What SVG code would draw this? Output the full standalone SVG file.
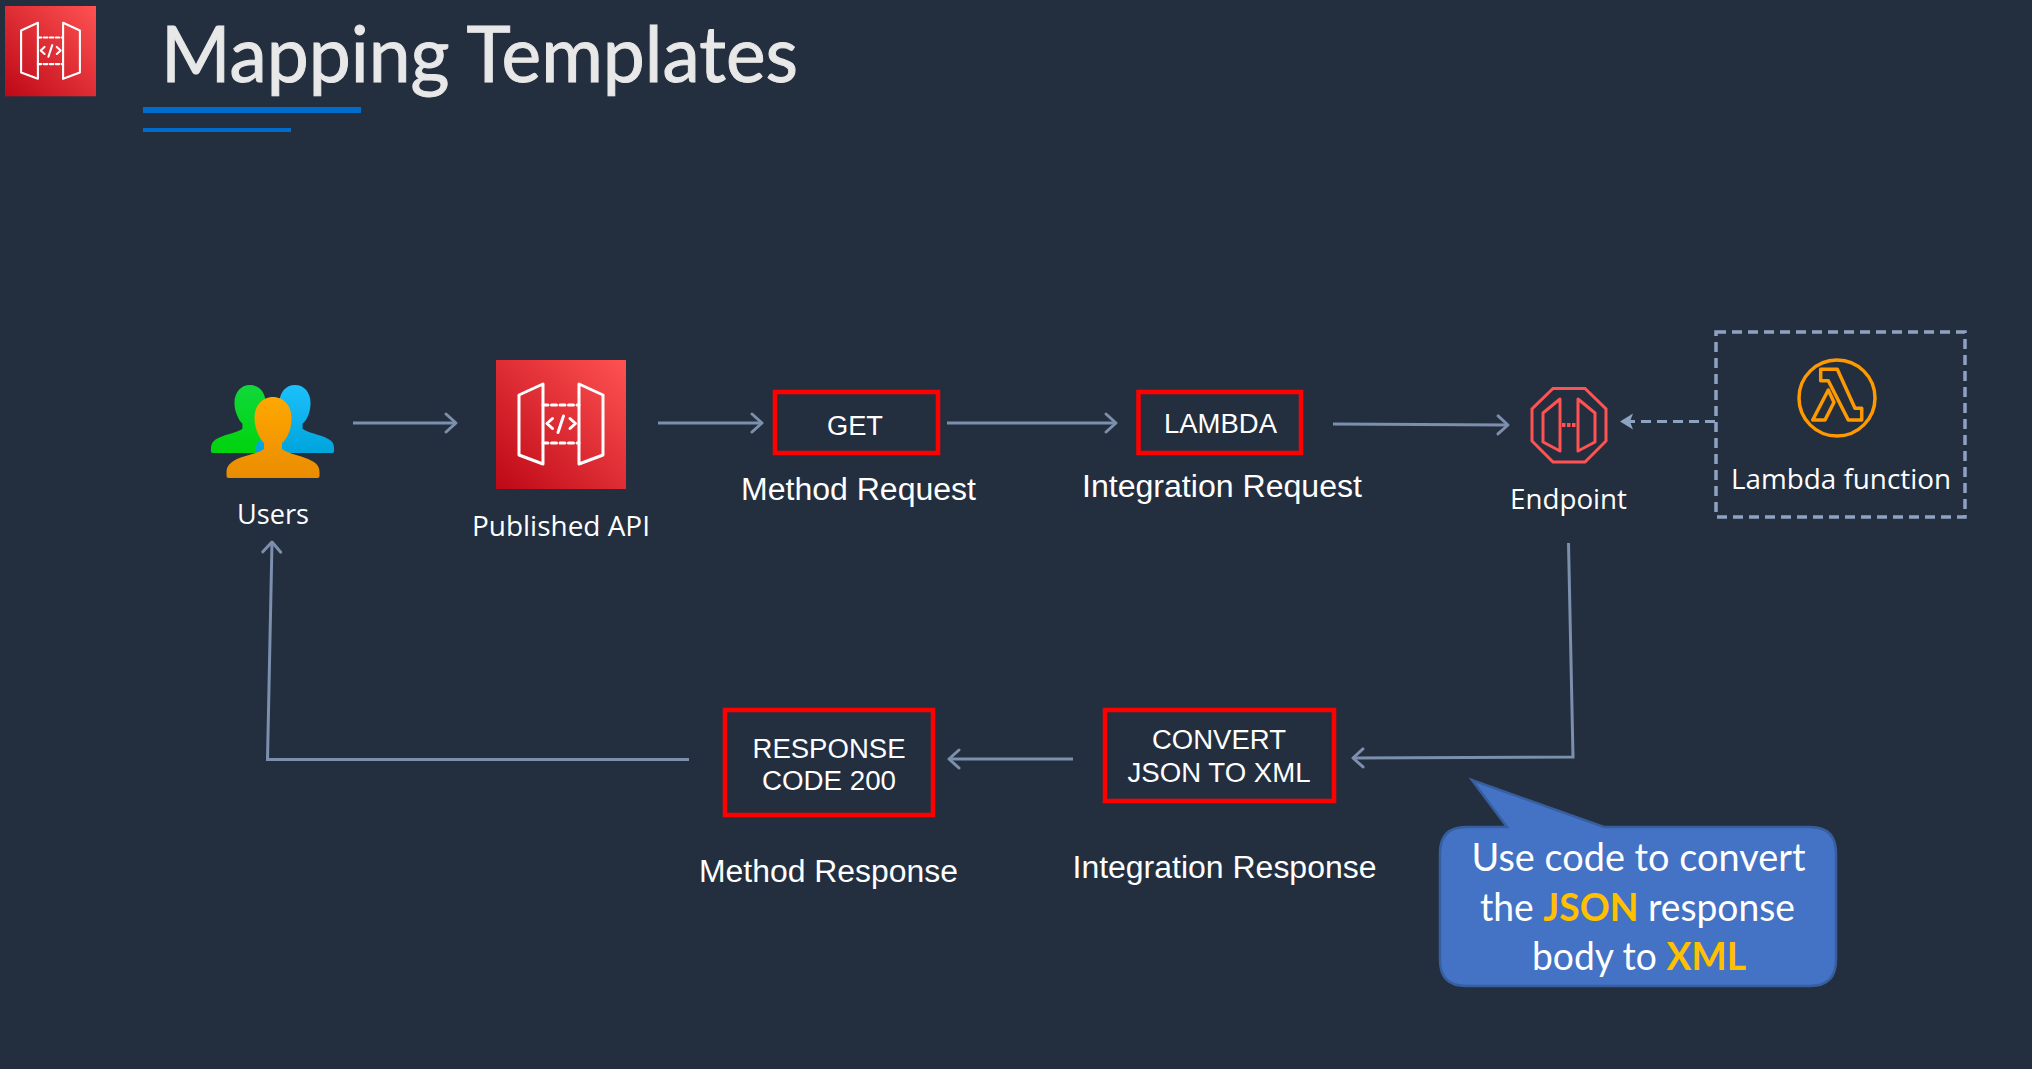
<svg xmlns="http://www.w3.org/2000/svg" width="2032" height="1069" viewBox="0 0 2032 1069">
<style>
.a{font-family:"Liberation Sans",Arial,sans-serif;fill:#fff;text-anchor:middle}
.s{font-family:"Open Sans","Noto Sans",sans-serif;fill:#fff;text-anchor:middle;font-size:27px}
.c{font-family:Lato,"Open Sans",sans-serif;fill:#fff;text-anchor:middle;font-size:38px}
.y{fill:#ffc000;font-weight:700}
.box{fill:none;stroke:#f00;stroke-width:4.5}
.l{fill:none;stroke:#7c8fad;stroke-width:3;marker-end:url(#ah)}
.dash{fill:none;stroke:#8ea3c2;stroke-width:3.5;stroke-dasharray:10 6}
.w{fill:none;stroke:#fff;stroke-linejoin:round;stroke-linecap:round}
</style>
<defs>
<linearGradient id="red" x1="0" y1="1" x2="1" y2="0"><stop offset="0" stop-color="#bd0816"/><stop offset="1" stop-color="#ff5252"/></linearGradient>
<linearGradient id="gg" x1="0" y1="0" x2="0" y2="1"><stop offset="0" stop-color="#10d83c"/><stop offset="1" stop-color="#00d40c"/></linearGradient>
<linearGradient id="gb" x1="0" y1="0" x2="0" y2="1"><stop offset="0" stop-color="#1cc0fc"/><stop offset="1" stop-color="#00a4dc"/></linearGradient>
<linearGradient id="go" x1="0" y1="0" x2="0" y2="1"><stop offset="0" stop-color="#ffa800"/><stop offset="1" stop-color="#ea8c00"/></linearGradient>
<marker id="ah" markerUnits="userSpaceOnUse" markerWidth="30" markerHeight="30" refX="22" refY="15" orient="auto"><path d="M12 6L22 15L12 24" fill="none" stroke="#7c8fad" stroke-width="3" stroke-linecap="round" stroke-linejoin="round"/></marker>
<marker id="ahd" markerUnits="userSpaceOnUse" markerWidth="30" markerHeight="30" refX="22" refY="15" orient="auto"><path d="M9 7L22 15L9 23L12 15Z" fill="#8ea3c2"/></marker>
<path id="person" d="M0 0C-11 0-18.5 9-18.5 21C-18.5 31-14 41-9 46L-9 52C-15 57-33 59-41 65C-45 68-46.500 71-46.500 76L-46.500 79Q-46.500 81-44.500 81L44.500 81Q46.500 81 46.500 79L46.500 75C46.500 69 43 66 39 64C31 59 15 57 9 52L9 46C15 41 18.500 31 18.500 21C18.500 9 11 0 0 0Z"/>
<g id="apiicon">
<rect width="130" height="129" fill="url(#red)"/>
<path class="w" stroke-width="3" d="M23 35L47 24V104L23 95ZM83 24L107 35V95L83 104Z"/>
<path class="w" stroke-width="3" stroke-linecap="butt" stroke-dasharray="5 3.500" d="M47 45H83M47 83H83"/>
<path class="w" stroke-width="3" d="M56.500 58.500L51 63.500L56.500 68.500M62 72.500L67.500 56M74 58.500L79.500 63.500L74 68.500"/>
</g>
</defs>
<rect width="2032" height="1069" fill="#232f3f"/>

<g id="title">
<use href="#apiicon" transform="translate(5 6) scale(.7)"/>
<text x="479.500" y="81.500" font-family="Lato,'Open Sans',sans-serif" font-size="77" fill="#e8e8e8" stroke="#e8e8e8" stroke-width="1" text-anchor="middle" textLength="637" lengthAdjust="spacingAndGlyphs">Mapping Templates</text>
<rect x="143" y="107" width="218" height="6" fill="#006ccb"/>
<rect x="143" y="128" width="148" height="4" fill="#006ccb"/>
</g>

<g id="connectors">
<path class="l" d="M353 423H456"/>
<path class="l" d="M658 423H762"/>
<path class="l" d="M947 423H1116"/>
<path class="l" d="M1333 424L1508 425"/>
<path d="M1715 421.500H1620" fill="none" stroke="#8ea3c2" stroke-width="3" stroke-dasharray="10 6" marker-end="url(#ahd)"/>
<path class="l" d="M1568.500 543L1573 757L1353 758"/>
<path class="l" d="M1073 759H949"/>
<path class="l" d="M689 759.500H267.500L272 542"/>
</g>

<g id="users">
<use href="#person" fill="url(#gg)" transform="translate(250 385) scale(.84)"/>
<use href="#person" fill="url(#gb)" transform="translate(295 385) scale(.84)"/>
<use href="#person" fill="url(#go)" transform="translate(273 397)"/>
<text class="s" x="273" y="524" textLength="72" lengthAdjust="spacingAndGlyphs">Users</text>
</g>

<g id="published-api">
<use href="#apiicon" transform="translate(496 360)"/>
<text class="s" x="561" y="535.500" textLength="178" lengthAdjust="spacingAndGlyphs">Published API</text>
</g>

<g id="method-request">
<rect class="box" x="775" y="392" width="163" height="61"/>
<text class="a" x="855" y="435" font-size="27" textLength="56" lengthAdjust="spacingAndGlyphs">GET</text>
<text class="a" x="858.500" y="499.500" font-size="31" textLength="235" lengthAdjust="spacingAndGlyphs">Method Request</text>
</g>

<g id="integration-request">
<rect class="box" x="1138.500" y="392" width="162.500" height="61"/>
<text class="a" x="1220.500" y="433" font-size="27" textLength="113" lengthAdjust="spacingAndGlyphs">LAMBDA</text>
<text class="a" x="1222" y="497" font-size="31" textLength="280" lengthAdjust="spacingAndGlyphs">Integration Request</text>
</g>

<g id="endpoint">
<path d="M1553 388.500H1585L1606 409V441L1585 462H1553L1532 441V409Z" fill="none" stroke="#ff5252" stroke-width="3"/>
<path d="M1560 399L1543 413V442L1560 451ZM1578 399L1595 413V442L1578 451Z" fill="none" stroke="#ff5252" stroke-width="3" stroke-linejoin="round"/>
<path d="M1562 425H1576" stroke="#ff5252" stroke-width="4" stroke-dasharray="3.500 1.500"/>
<text class="s" x="1568.500" y="509" textLength="117" lengthAdjust="spacingAndGlyphs">Endpoint</text>
</g>

<g id="lambda-function">
<rect class="dash" x="1716" y="332" width="249" height="185"/>
<circle cx="1837" cy="398" r="38" fill="none" stroke="#ff9900" stroke-width="3.500"/>
<path d="M1820.700 369.300H1837.300L1855 408.300H1861.700V420H1848.300L1828.300 380.700H1820.700ZM1828.300 390L1834 402.300L1825 420H1812.700Z" fill="none" stroke="#ff9900" stroke-width="3.500" stroke-linejoin="round"/>
<text class="s" x="1841" y="489" textLength="220" lengthAdjust="spacingAndGlyphs">Lambda function</text>
</g>

<g id="integration-response">
<rect class="box" x="1105" y="710" width="229" height="91"/>
<text class="a" x="1219" y="749" font-size="27" textLength="134" lengthAdjust="spacingAndGlyphs">CONVERT</text>
<text class="a" x="1219" y="782" font-size="27" textLength="183" lengthAdjust="spacingAndGlyphs">JSON TO XML</text>
<text class="a" x="1224.500" y="878" font-size="31" textLength="304" lengthAdjust="spacingAndGlyphs">Integration Response</text>
</g>

<g id="method-response">
<rect class="box" x="725" y="710" width="208" height="105"/>
<text class="a" x="829" y="758" font-size="27" textLength="153" lengthAdjust="spacingAndGlyphs">RESPONSE</text>
<text class="a" x="829" y="790" font-size="27" textLength="134" lengthAdjust="spacingAndGlyphs">CODE 200</text>
<text class="a" x="828.500" y="881.500" font-size="31" textLength="259" lengthAdjust="spacingAndGlyphs">Method Response</text>
</g>

<g id="callout">
<path d="M1507 827L1472 780L1604 827H1810Q1836 827 1836 853V960Q1836 986 1810 986H1466Q1440 986 1440 960V853Q1440 827 1466 827Z" fill="#4472c4" stroke="#375e9e" stroke-width="2.500"/>
<text class="c" x="1638.500" y="871" textLength="334" lengthAdjust="spacingAndGlyphs">Use code to convert</text>
<text class="c" x="1637.500" y="920.500" textLength="315" lengthAdjust="spacingAndGlyphs">the <tspan class="y">JSON</tspan> response</text>
<text class="c" x="1639" y="970" textLength="214" lengthAdjust="spacingAndGlyphs">body to <tspan class="y">XML</tspan></text>
</g>
</svg>
